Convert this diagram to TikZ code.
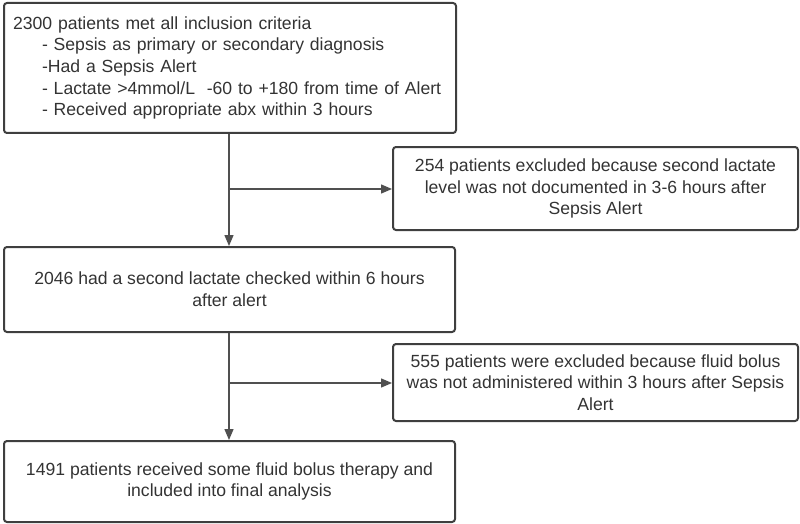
\documentclass[tikz,border=0pt]{standalone}
\usepackage{xcolor}
\usepackage{fontspec}
\setmainfont{Liberation Sans}
\usepackage{tikz}
\usetikzlibrary{calc,arrows.meta}

\definecolor{boxline}{HTML}{3F3F3F}
\definecolor{arrline}{HTML}{505050}
\definecolor{txt}{HTML}{333333}

\begin{document}
\begin{tikzpicture}[x=1pt,y=-1pt,
    flowbox/.style={draw=boxline, line width=2pt, rounded corners=3pt,
        text=txt, font=\fontsize{17.6}{21.6}\selectfont, inner sep=0pt},
    flowarr/.style={draw=arrline, line width=1.4pt,
        -{Triangle[length=11pt,width=9pt]}}]

    % 1. Khung cố định kích thước hình
    \useasboundingbox (0,0) rectangle (800,524);

    % 2. Các hộp bên trái (luồng chính)
    \node[flowbox, minimum width=452pt, minimum height=130pt,
        text width=434pt, align=left] (incl) at (230,68)
        {2300 patients met all inclusion criteria\\
        \hspace*{29pt}- Sepsis as primary or secondary diagnosis\\
        \hspace*{29pt}-Had a Sepsis Alert\\
        \hspace*{29pt}- Lactate >4mmol/L\ \ -60 to +180 from time of Alert\\
        \hspace*{29pt}- Received appropriate abx within 3 hours};
    \node[flowbox, minimum width=451pt, minimum height=85pt,
        align=center] (second) at (229.5,289.5)
        {2046 had a second lactate checked within 6 hours\\ after alert};
    \node[flowbox, minimum width=451pt, minimum height=81pt,
        align=center] (final) at (229.5,481.5)
        {1491 patients received some fluid bolus therapy and\\ included into final analysis};

    % 3. Các hộp bên phải (bệnh nhân bị loại)
    \node[flowbox, minimum width=405pt, minimum height=83pt,
        align=center] (excl1) at (595.5,188.5)
        {254 patients excluded because second lactate\\ level was not documented in 3-6 hours after\\ Sepsis Alert};
    \node[flowbox, minimum width=405pt, minimum height=77pt,
        align=center] (excl2) at (595.5,382.5)
        {555 patients were excluded because fluid bolus\\ was not administered within 3 hours after Sepsis\\ Alert};

    % 4. Điểm rẽ nhánh trên đường dọc
    \coordinate (j1) at (229,189);
    \coordinate (j2) at (229,383);

    % 5. Các mũi tên nối
    \draw[flowarr] (incl.south -| j1) -- (second.north -| j1);
    \draw[flowarr] (second.south -| j2) -- (final.north -| j2);
    \draw[flowarr] (j1) -- (j1 -| excl1.west);
    \draw[flowarr] (j2) -- (j2 -| excl2.west);

\end{tikzpicture}
\end{document}
